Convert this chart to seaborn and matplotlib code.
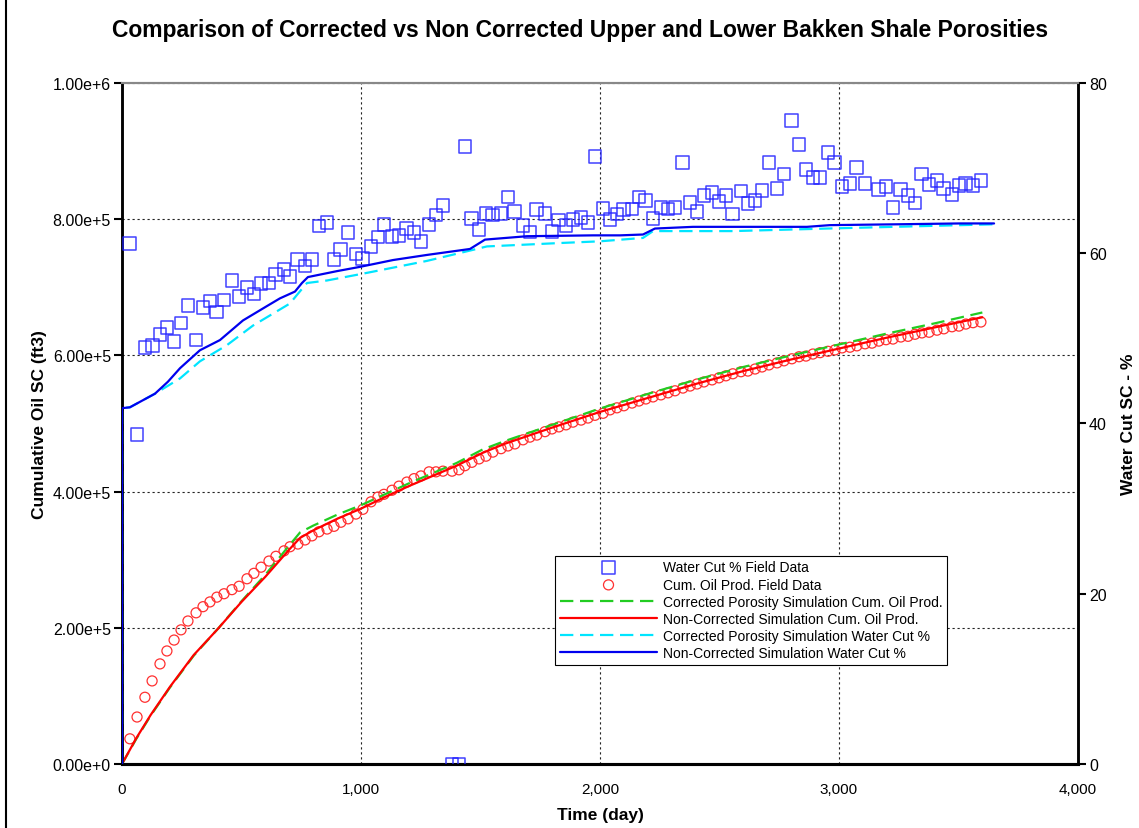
import numpy as np
import pandas as pd
import matplotlib
matplotlib.use("Agg")
import matplotlib.pyplot as plt
from matplotlib.lines import Line2D
from matplotlib.ticker import FuncFormatter, FixedLocator
import seaborn as sns

# ---- field data (monthly) ----
field_days = [33, 63, 96, 126, 159, 188, 218, 247, 276, 310, 339, 368, 397, 427, 460, 490,
              523, 552, 582, 615, 644, 678, 703, 736, 766, 795, 824, 858, 887, 916, 946, 979,
              1008, 1042, 1071, 1096, 1130, 1159, 1192, 1222, 1251, 1285, 1314, 1343, 1381,
              1410, 1435, 1464, 1494, 1523, 1552, 1586, 1615, 1644, 1678, 1707, 1736, 1770,
              1799, 1828, 1858, 1887, 1921, 1950, 1979, 2013, 2042, 2071, 2100, 2134, 2163,
              2192, 2222, 2255, 2285, 2314, 2347, 2377, 2406, 2435, 2469, 2498, 2527, 2556,
              2590, 2619, 2649, 2678, 2707, 2741, 2770, 2803, 2833, 2862, 2891, 2921, 2954,
              2983, 3013, 3046, 3075, 3109, 3138, 3167, 3197, 3226, 3259, 3289, 3318, 3347,
              3377, 3410, 3439, 3473, 3502, 3531, 3561, 3594]

field_water_cut = [61.1, 38.7, 48.9, 49.2, 50.5, 51.3, 49.6, 51.8, 53.9, 49.8, 53.6, 54.4,
                   53.1, 54.5, 56.8, 54.9, 56.0, 55.2, 56.4, 56.5, 57.5, 58.1, 57.3, 59.3,
                   58.5, 59.3, 63.2, 63.6, 59.3, 60.4, 62.4, 59.9, 59.4, 60.8, 61.9, 63.4,
                   62.0, 62.1, 62.9, 62.4, 61.4, 63.4, 64.5, 65.6, 0.0, 0.0, 72.5, 64.1,
                   62.8, 64.7, 64.5, 64.7, 66.6, 64.9, 63.3, 62.5, 65.1, 64.7, 62.6, 63.9,
                   63.3, 64.0, 64.2, 63.6, 71.4, 65.3, 64.0, 64.6, 65.1, 65.2, 66.6, 66.2,
                   64.1, 65.4, 65.2, 65.4, 70.7, 66.0, 64.9, 66.8, 67.1, 66.1, 66.8, 64.6,
                   67.3, 65.8, 66.2, 67.4, 70.7, 67.6, 69.3, 75.6, 72.8, 69.8, 68.9, 68.9,
                   71.8, 70.7, 67.8, 68.2, 70.1, 68.2, np.nan, 67.5, 67.8, 65.4, 67.5, 66.8,
                   65.9, 69.3, 68.1, 68.5, 67.6, 66.9, 68.0, 68.2, 68.0, 68.5]

field_cum_oil = [37e3, 69e3, 98e3, 122e3, 147e3, 166e3, 182e3, 197e3, 210e3, 222e3, 231e3,
                 238e3, 245e3, 250e3, 256e3, 261e3, 272e3, 280e3, 289e3, 298e3, 305e3,
                 313e3, 319e3, 323e3, 329e3, 335e3, 341e3, 345e3, 349e3, 355e3, 360e3,
                 367e3, 374e3, 385e3, 392e3, 396e3, 402e3, 408e3, 414e3, 419e3, 423e3,
                 429e3, 429e3, 430e3, 430e3, 432e3, 438e3, 443e3, 448e3, 452e3, 458e3,
                 463e3, 467e3, 470e3, 476e3, 480e3, 483e3, 488e3, 492e3, 495e3, 498e3,
                 502e3, 505e3, 508e3, 512e3, 515e3, 520e3, 523e3, 526e3, 530e3, 533e3,
                 536e3, 539e3, 542e3, 545e3, 548e3, 552e3, 555e3, 558e3, 561e3, 564e3,
                 567e3, 570e3, 573e3, 576e3, 577e3, 580e3, 583e3, 586e3, 589e3, 592e3,
                 595e3, 598e3, 599e3, 602e3, 604e3, 606e3, 608e3, 611e3, 612e3, 614e3,
                 617e3, 618e3, 621e3, 623e3, 624e3, 627e3, 628e3, 631e3, 633e3, 634e3,
                 637e3, 639e3, 642e3, 643e3, 646e3, 648e3, 649e3]

# ---- simulation results: cumulative oil ----
sim_oil_days = [0, 60, 120, 200, 300, 400, 500, 600, 700, 745, 800, 900, 1000, 1100, 1200,
                1300, 1400, 1510, 1600, 1800, 2000, 2215, 2400, 2600, 2800, 3000, 3200,
                3400, 3600]
oil_noncorrected = [0, 38e3, 72e3, 113e3, 160e3, 198e3, 238e3, 275e3, 315e3, 332e3, 343e3,
                    360e3, 375e3, 392e3, 408e3, 423e3, 438e3, 457e3, 470e3, 494e3, 517e3,
                    539e3, 558e3, 577e3, 594e3, 610e3, 626e3, 641e3, 656e3]
oil_corrected = [0, 37e3, 71e3, 112e3, 159e3, 198e3, 239e3, 278e3, 321e3, 340e3, 350e3,
                 366e3, 380e3, 396e3, 412e3, 427e3, 442e3, 462e3, 474e3, 498e3, 522e3,
                 545e3, 564e3, 583e3, 600e3, 616e3, 632e3, 647e3, 663e3]

# ---- simulation results: water cut ----
wc_noncorr_days = [0, 0, 33, 138, 192, 243, 326, 410, 506, 607, 661, 724, 753, 778, 900, 996,
                   1134, 1276, 1456, 1519, 1695, 1971, 2084, 2180, 2230, 2389, 2866, 2962,
                   3243, 3506, 3649]
wc_noncorrected = [0, 41.8, 41.9, 43.5, 44.9, 46.5, 48.6, 49.8, 52.1, 53.8, 54.7, 55.5, 56.5,
                   57.2, 57.9, 58.4, 59.2, 59.8, 60.5, 61.6, 62.0, 62.1, 62.1, 62.2, 62.9,
                   63.1, 63.1, 63.3, 63.4, 63.5, 63.5]
wc_corr_days = [0, 0, 33, 138, 243, 326, 439, 548, 703, 732, 774, 858, 1008, 1276, 1469,
                1527, 1833, 2000, 2180, 2222, 2556, 2950, 3649]
wc_corrected = [0, 41.8, 41.9, 43.5, 45.3, 47.3, 49.2, 51.5, 54.1, 55.1, 56.5, 56.8, 57.6,
                59.1, 60.4, 60.8, 61.2, 61.4, 61.8, 62.6, 62.6, 62.9, 63.4]

x_ticks = [0, 1000, 2000, 3000, 4000]
oil_ticks = [0, 2e5, 4e5, 6e5, 8e5, 1e6]
wc_ticks = [0, 20, 40, 60, 80]

sns.set_style("white")
plt.rcParams["font.family"] = ["Liberation Sans", "DejaVu Sans"]
plt.rcParams["text.color"] = "black"
plt.rcParams["axes.labelcolor"] = "black"

fig = plt.figure(figsize=(11.39, 8.29), dpi=100)
ax = fig.add_axes([0.1071, 0.0772, 0.8393, 0.8215])
ax2 = ax.twinx()

# cumulative oil on the left axis
sns.scatterplot(x=field_days, y=field_cum_oil, ax=ax, marker="o", s=52,
                facecolor="none", edgecolor="#ff3030", linewidth=0.9,
                label="Cum. Oil Prod. Field Data", zorder=3)
sns.lineplot(x=sim_oil_days, y=oil_corrected, ax=ax, color="#22cc22", lw=1.6,
             linestyle=(0, (6, 3)), estimator=None, sort=False,
             label="Corrected Porosity Simulation Cum. Oil Prod.", zorder=4)
sns.lineplot(x=sim_oil_days, y=oil_noncorrected, ax=ax, color="#ff0000", lw=1.6,
             estimator=None, sort=False,
             label="Non-Corrected Simulation Cum. Oil Prod.", zorder=4)

# water cut on the right axis
sns.scatterplot(x=field_days, y=field_water_cut, ax=ax2, marker="s", s=85,
                facecolor="none", edgecolor="#2020ff", linewidth=1.1, alpha=0.85,
                label="Water Cut % Field Data", zorder=3)
sns.lineplot(x=wc_corr_days, y=wc_corrected, ax=ax2, color="#00e5ff", lw=1.6,
             linestyle=(0, (6, 3)), estimator=None, sort=False,
             label="Corrected Porosity Simulation Water Cut %", zorder=4)
sns.lineplot(x=wc_noncorr_days, y=wc_noncorrected, ax=ax2, color="#0000ee", lw=1.6,
             estimator=None, sort=False,
             label="Non-Corrected Simulation Water Cut %", zorder=5)

ax.set_xlim(0, 4000)
ax.set_ylim(0, 1e6)
ax2.set_ylim(0, 80)

ax.xaxis.set_major_locator(FixedLocator(x_ticks))
ax.yaxis.set_major_locator(FixedLocator(oil_ticks))
ax2.yaxis.set_major_locator(FixedLocator(wc_ticks))


def sci_fmt(v, pos):
    mant, exp = f"{v:.2e}".split("e")
    return f"{mant}e{exp[0]}{int(exp[1:])}"


ax.yaxis.set_major_formatter(FuncFormatter(sci_fmt))
ax.xaxis.set_major_formatter(FuncFormatter(lambda v, p: f"{int(v):,}"))

ax.grid(True, color="#222222", linestyle=(0, (2, 2.5)), linewidth=0.8)
ax2.grid(False)

ax.tick_params(axis="x", direction="out", length=6, width=1.5, labelsize=11,
               colors="black", pad=7)
ax.tick_params(axis="y", direction="out", length=6, width=1.5, labelsize=11.5,
               colors="black", pad=2)
ax2.tick_params(axis="y", direction="out", length=6, width=1.5, labelsize=11.5,
                colors="black", pad=2)

for a in (ax, ax2):
    a.spines["left"].set_color("black")
    a.spines["left"].set_linewidth(1.8)
    a.spines["right"].set_color("black")
    a.spines["right"].set_linewidth(1.8)
    a.spines["bottom"].set_color("black")
    a.spines["bottom"].set_linewidth(2.2)
    a.spines["top"].set_color("#888888")
    a.spines["top"].set_linewidth(1.5)

ax.set_xlabel("Time (day)", fontsize=12.5, fontweight="bold", labelpad=8)
ax.set_ylabel("Cumulative Oil SC (ft3)", fontsize=12.5, fontweight="bold", labelpad=4)
ax2.set_ylabel("Water Cut SC - %", fontsize=12.5, fontweight="bold", labelpad=10)

fig.suptitle("Comparison of Corrected vs Non Corrected Upper and Lower Bakken Shale Porosities",
             x=0.509, y=0.977, fontsize=16.5, fontweight="bold", color="black")

# combined legend
h1, l1 = ax.get_legend_handles_labels()
h2, l2 = ax2.get_legend_handles_labels()
for a in (ax, ax2):
    if a.get_legend() is not None:
        a.get_legend().remove()
hmap = dict(zip(l1 + l2, h1 + h2))
order = ["Water Cut % Field Data", "Cum. Oil Prod. Field Data",
         "Corrected Porosity Simulation Cum. Oil Prod.",
         "Non-Corrected Simulation Cum. Oil Prod.",
         "Corrected Porosity Simulation Water Cut %",
         "Non-Corrected Simulation Water Cut %"]
leg = ax2.legend([hmap[k] for k in order], order, loc="upper left",
                 bbox_to_anchor=(0.453, 0.306), fontsize=10, frameon=True,
                 fancybox=False, edgecolor="black", framealpha=1, borderpad=0.35,
                 handlelength=7.0, handletextpad=0.4, labelspacing=0.22,
                 scatterpoints=1, borderaxespad=0)
leg.get_frame().set_linewidth(0.8)
leg.set_zorder(10)

# window frame on the left edge
fig.add_artist(Line2D([0.0055, 0.0055], [0.0, 1.0], transform=fig.transFigure,
                      color="black", lw=1.5))

fig.savefig("out.png", dpi=100)
